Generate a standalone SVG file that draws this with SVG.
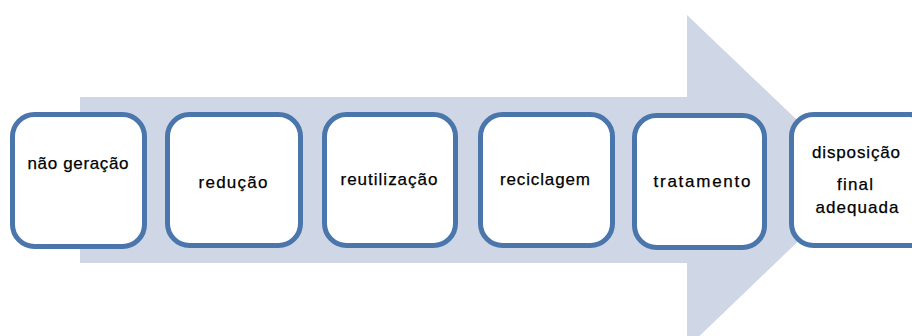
<svg xmlns="http://www.w3.org/2000/svg" width="912" height="336" viewBox="0 0 912 336">
  <style>
    .box { fill: #ffffff; stroke: #4a76ac; stroke-width: 5; }
    .lbl { font-family: "Liberation Sans", Arial, sans-serif; font-size: 17px; fill: #000000; text-anchor: middle; stroke: #000000; stroke-width: 0.25; }
  </style>
  <rect width="912" height="336" fill="#ffffff"/>
  <!-- broad process arrow behind the steps -->
  <g id="connectors">
    <polygon points="80,97 687,97 687,15 861,181 687,348 687,263 80,263" fill="#cfd7e6"/>
  </g>
  <g id="step-nao-geracao">
    <rect class="box" x="12.5" y="114.5" width="132" height="132" rx="22"/>
    <text class="lbl" x="78" y="169" textLength="101" lengthAdjust="spacing">não geração</text>
  </g>
  <g id="step-reducao">
    <rect class="box" x="167.5" y="114.5" width="133" height="131" rx="22"/>
    <text class="lbl" x="233" y="188" textLength="69" lengthAdjust="spacing">redução</text>
  </g>
  <g id="step-reutilizacao">
    <rect class="box" x="324.5" y="114.5" width="131" height="131" rx="22"/>
    <text class="lbl" x="389" y="185" textLength="97" lengthAdjust="spacing">reutilização</text>
  </g>
  <g id="step-reciclagem">
    <rect class="box" x="480.5" y="114.5" width="132" height="131" rx="22"/>
    <text class="lbl" x="545" y="185" textLength="90" lengthAdjust="spacing">reciclagem</text>
  </g>
  <g id="step-tratamento">
    <rect class="box" x="634.5" y="115.5" width="130" height="132" rx="22"/>
    <text class="lbl" x="702" y="187" textLength="97" lengthAdjust="spacing">tratamento</text>
  </g>
  <g id="step-disposicao">
    <rect class="box" x="791.5" y="114.5" width="140" height="131" rx="22"/>
    <text class="lbl" x="856" y="158" textLength="88" lengthAdjust="spacing">disposição</text>
    <text class="lbl" x="855" y="190" textLength="36" lengthAdjust="spacing">final</text>
    <text class="lbl" x="857" y="213" textLength="83" lengthAdjust="spacing">adequada</text>
  </g>
</svg>
